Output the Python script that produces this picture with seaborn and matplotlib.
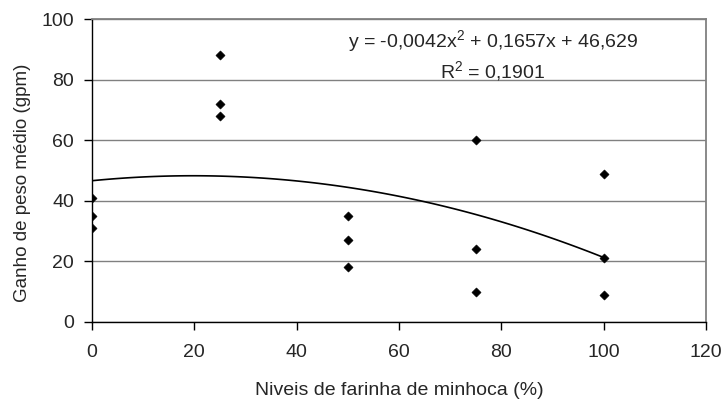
import matplotlib
matplotlib.use("Agg")
import matplotlib.pyplot as plt
import seaborn as sns
import pandas as pd

# data
niveis = [0, 0, 0, 25, 25, 25, 50, 50, 50, 75, 75, 75, 100, 100, 100]
ganho = [41, 35, 31, 88, 72, 68, 35, 27, 18, 60, 24, 10, 49, 21, 9]
equacao = "y = -0,0042x$^2$ + 0,1657x + 46,629"
r2_texto = "R$^2$ = 0,1901"
x_ticks = [0, 20, 40, 60, 80, 100, 120]
y_ticks = [0, 20, 40, 60, 80, 100]

df = pd.DataFrame({"nivel": niveis, "ganho": ganho})

sns.set_style("white")
plt.rcParams["font.family"] = ["Liberation Sans", "DejaVu Sans"]
plt.rcParams["mathtext.fontset"] = "custom"
plt.rcParams["mathtext.rm"] = "Liberation Sans"

fig = plt.figure(figsize=(7.26, 4.01), dpi=100)
ax = fig.add_axes([92 / 726, 1 - 322 / 401, (706 - 92) / 726, (322 - 19) / 401])

# quadratic trend line fitted by seaborn
sns.regplot(data=df, x="nivel", y="ganho", order=2, ci=None, scatter=False,
            truncate=True, line_kws={"color": "black", "lw": 1.2}, ax=ax)
sns.scatterplot(data=df, x="nivel", y="ganho", marker="D", s=22,
                color="black", edgecolor="black", ax=ax, zorder=3)

ax.set_xlim(0, 120)
ax.set_ylim(0, 100)
ax.set_xticks(x_ticks)
ax.set_yticks(y_ticks)
ax.yaxis.grid(True, color="#808080", lw=1.0)
ax.set_axisbelow(True)

for side in ["top", "right"]:
    ax.spines[side].set_color("#808080")
    ax.spines[side].set_linewidth(1.3)
for side in ["left", "bottom"]:
    ax.spines[side].set_color("black")
    ax.spines[side].set_linewidth(1.0)

ax.tick_params(axis="both", direction="out", length=6, width=1, color="black",
               labelsize=14, bottom=True, left=True)
ax.tick_params(axis="y", pad=7)
ax.tick_params(axis="x", pad=10)
ax.set_xlabel("Niveis de farinha de minhoca (%)", fontsize=14, labelpad=15)
ax.set_ylabel("Ganho de peso médio (gpm)", fontsize=13.5)
ax.yaxis.set_label_coords(-0.10, 0.46)

ax.text(78.4, 92.5, equacao, ha="center", va="center", fontsize=14)
ax.text(78.4, 82.5, r2_texto, ha="center", va="center", fontsize=14)

fig.savefig("out.png", dpi=100)
